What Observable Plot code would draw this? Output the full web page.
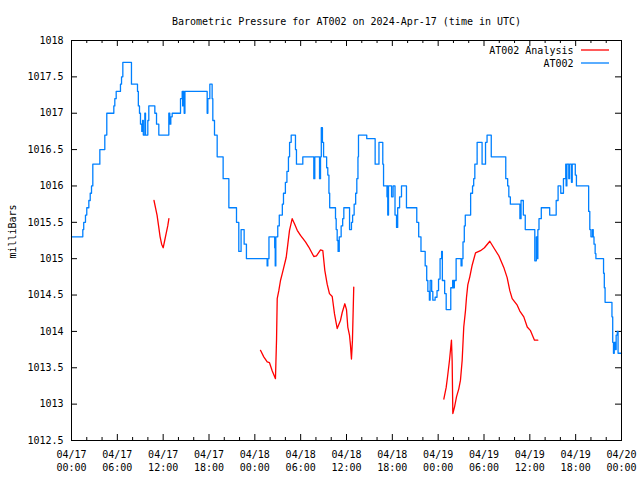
<!DOCTYPE html>
<html>
<head>
<meta charset="utf-8">
<script src="https://cdn.jsdelivr.net/npm/d3@7"></script>
<script src="https://cdn.jsdelivr.net/npm/@observablehq/plot@0.6"></script>
<style>
  html, body { margin: 0; padding: 0; background: #fff; }
  #chart { width: 640px; height: 480px; }
</style>
</head>
<body>
<div id="chart"></div>
<script>
const titleText = "Barometric Pressure for AT002 on 2024-Apr-17 (time in UTC)";
const yLabelText = "milliBars";
const seriesNames = ["AT002 Analysis", "AT002"];
const seriesColors = ["#ff0000", "#0080ff"];

const xTickHours = [0, 6, 12, 18, 24, 30, 36, 42, 48, 54, 60, 66, 72];
const xTickDates = ["04/17", "04/17", "04/17", "04/17", "04/18", "04/18", "04/18", "04/18", "04/19", "04/19", "04/19", "04/19", "04/20"];
const xTickTimes = ["00:00", "06:00", "12:00", "18:00", "00:00", "06:00", "12:00", "18:00", "00:00", "06:00", "12:00", "18:00", "00:00"];
const xMinorHours = [2, 4, 8, 10, 14, 16, 20, 22, 26, 28, 32, 34, 38, 40, 44, 46, 50, 52, 56, 58, 62, 64, 68, 70];
const yTicks = [1012.5, 1013, 1013.5, 1014, 1014.5, 1015, 1015.5, 1016, 1016.5, 1017, 1017.5, 1018];
const yTickLabels = ["1012.5", "1013", "1013.5", "1014", "1014.5", "1015", "1015.5", "1016", "1016.5", "1017", "1017.5", "1018"];

// AT002 observations: hours since 2024-04-17 00:00 UTC, pressure (mb)
const blueHours = [0, 1.48, 1.6, 1.83, 2.0, 2.27, 2.45, 2.62, 2.79, 3.71, 4.36, 4.62, 5.54, 5.67, 5.85, 6.41, 6.55, 6.72, 7.85, 8.64, 8.75, 8.9, 9.03, 9.2, 9.3, 9.4, 9.6, 9.69, 9.99, 10.12, 10.91, 11.13, 11.43, 12.74, 12.87, 13.0, 13.18, 14.27, 14.49, 14.55, 14.62, 14.75, 14.85, 17.76, 17.85, 18.11, 18.41, 18.5, 18.72, 19.07, 19.85, 20.6, 21.6, 21.9, 22.2, 22.6, 22.9, 25.61, 25.7, 25.85, 26.6, 26.67, 26.75, 27.0, 27.2, 27.6, 27.75, 28.0, 28.2, 28.4, 28.55, 28.76, 29.32, 29.45, 30.28, 31.72, 31.85, 32.47, 32.6, 32.7, 32.85, 33.0, 33.4, 33.55, 33.7, 33.8, 34.56, 34.65, 34.78, 34.9, 35.05, 35.3, 35.5, 35.65, 36.4, 36.65, 36.8, 37.0, 37.2, 37.35, 37.5, 37.57, 38.65, 39.75, 40.25, 40.75, 40.85, 41.3, 41.35, 41.4, 41.5, 41.9, 42.1, 42.35, 42.55, 42.7, 42.95, 43.2, 43.85, 45.2, 45.45, 45.75, 46.3, 46.5, 46.65, 46.85, 46.95, 47.15, 47.3, 47.6, 47.85, 48.05, 48.25, 48.45, 48.55, 48.85, 49.05, 49.65, 49.9, 50.02, 50.12, 50.35, 51.0, 51.12, 51.25, 51.42, 51.55, 52.25, 52.5, 52.65, 52.8, 53.1, 53.75, 54.2, 54.4, 54.95, 56.85, 57.1, 57.25, 57.45, 58.7, 58.85, 59.15, 59.4, 60.65, 60.85, 60.95, 61.05, 61.2, 61.5, 62.6, 63.45, 63.7, 64.05, 64.4, 64.7, 64.75, 64.85, 65.1, 65.2, 65.45, 65.55, 65.95, 66.1, 67.7, 67.85, 68.0, 68.2, 68.3, 68.4, 68.55, 68.65, 69.65, 69.75, 69.85, 70.75, 70.85, 70.95, 71.05, 71.2, 71.3, 71.45, 71.55, 72.0];
const bluePressure = [1015.3, 1015.4, 1015.5, 1015.6, 1015.7, 1015.8, 1015.9, 1016.0, 1016.3, 1016.5, 1016.7, 1017.0, 1017.1, 1017.2, 1017.3, 1017.4, 1017.5, 1017.7, 1017.4, 1017.3, 1017.1, 1017.0, 1016.85, 1016.75, 1016.9, 1016.7, 1017.0, 1016.7, 1016.9, 1017.1, 1017.0, 1016.85, 1016.7, 1017.0, 1016.85, 1016.95, 1017.0, 1017.2, 1017.3, 1017.1, 1017.3, 1017.0, 1017.3, 1017.0, 1017.2, 1017.4, 1017.2, 1016.9, 1016.7, 1016.4, 1016.1, 1015.7, 1015.5, 1015.1, 1015.4, 1015.2, 1015.0, 1014.9, 1015.0, 1015.3, 1015.15, 1014.9, 1015.3, 1015.45, 1015.6, 1015.75, 1015.9, 1016.05, 1016.2, 1016.4, 1016.6, 1016.7, 1016.5, 1016.3, 1016.4, 1016.1, 1016.4, 1016.1, 1016.4, 1016.8, 1016.6, 1016.4, 1016.25, 1016.15, 1015.9, 1015.7, 1015.55, 1015.4, 1015.25, 1015.1, 1015.3, 1015.45, 1015.55, 1015.7, 1015.4, 1015.5, 1015.6, 1015.75, 1015.9, 1016.1, 1016.4, 1016.7, 1016.65, 1016.3, 1016.6, 1016.3, 1016.0, 1015.85, 1016.0, 1015.6, 1016.0, 1015.85, 1016.0, 1015.6, 1015.43, 1015.7, 1015.85, 1016.0, 1015.7, 1015.5, 1015.3, 1015.1, 1014.9, 1014.7, 1014.55, 1014.43, 1014.7, 1014.55, 1014.43, 1014.47, 1014.56, 1014.72, 1015.0, 1015.1, 1014.7, 1014.52, 1014.3, 1014.6, 1014.7, 1014.6, 1014.7, 1015.0, 1014.9, 1015.0, 1015.23, 1015.45, 1015.6, 1015.9, 1016.0, 1016.1, 1016.3, 1016.6, 1016.3, 1016.6, 1016.7, 1016.4, 1016.1, 1016.0, 1015.85, 1015.75, 1015.55, 1015.8, 1015.6, 1015.4, 1014.97, 1015.3, 1015.0, 1015.4, 1015.55, 1015.7, 1015.6, 1015.8, 1016.0, 1015.9, 1016.1, 1016.3, 1016.0, 1016.3, 1016.1, 1016.3, 1016.05, 1016.3, 1016.15, 1016.0, 1015.65, 1015.4, 1015.3, 1015.4, 1015.3, 1015.2, 1015.07, 1015.0, 1014.8, 1014.6, 1014.4, 1014.2, 1013.85, 1013.7, 1013.85, 1013.75, 1013.95, 1014.0, 1013.7, 1013.7];

// AT002 Analysis: three separate runs
const redSegment = [1,1,1,1,1,1,1,1,1,1,1, 2,2,2,2,2,2,2,2,2,2,2,2,2,2,2,2,2,2,2,2,2,2,2,2,2,2,2,2,2,2,2,2,2,2,2,2,2,2,2,2,2, 3,3,3,3,3,3,3,3,3,3,3,3,3,3,3,3,3,3,3,3,3,3,3,3,3,3,3,3,3,3,3,3,3,3,3];
const redHours = [10.8, 11.0, 11.2, 11.4, 11.6, 11.8, 12.0, 12.2, 12.4, 12.6, 12.75,
  24.74, 25.17, 25.62, 25.92, 26.27, 26.7, 26.84, 26.93, 27.14, 27.36, 27.58, 27.79, 28.11, 28.32, 28.54, 28.89, 29.19, 29.55, 29.98, 30.63, 31.06, 31.72, 32.07, 32.6, 32.9, 33.16, 33.47, 33.77, 34.13, 34.43, 34.78, 35.21, 35.44, 35.78, 36.0, 36.17, 36.39, 36.52, 36.65, 36.78, 36.95,
  48.74, 49.05, 49.22, 49.48, 49.74, 49.83, 49.92, 50.14, 50.4, 50.7, 50.92, 51.14, 51.35, 51.58, 51.71, 51.88, 52.14, 52.45, 52.89, 53.54, 54.06, 54.76, 55.28, 55.94, 56.59, 57.03, 57.38, 57.69, 58.35, 58.69, 59.21, 59.66, 60.09, 60.61, 61.04];
const redPressure = [1015.8, 1015.7, 1015.6, 1015.45, 1015.3, 1015.2, 1015.15, 1015.25, 1015.35, 1015.45, 1015.55,
  1013.74, 1013.65, 1013.58, 1013.57, 1013.46, 1013.35, 1013.88, 1014.45, 1014.56, 1014.7, 1014.79, 1014.88, 1015.02, 1015.2, 1015.39, 1015.55, 1015.48, 1015.39, 1015.32, 1015.23, 1015.16, 1015.03, 1015.04, 1015.12, 1015.11, 1014.84, 1014.65, 1014.52, 1014.48, 1014.24, 1014.04, 1014.15, 1014.26, 1014.38, 1014.3, 1014.06, 1013.95, 1013.81, 1013.62, 1013.88, 1014.61,
  1013.07, 1013.23, 1013.37, 1013.6, 1013.88, 1013.6, 1012.87, 1012.96, 1013.1, 1013.21, 1013.33, 1013.6, 1014.06, 1014.29, 1014.47, 1014.64, 1014.75, 1014.91, 1015.08, 1015.11, 1015.15, 1015.24, 1015.15, 1015.04, 1014.88, 1014.74, 1014.56, 1014.45, 1014.36, 1014.28, 1014.2, 1014.06, 1014.01, 1013.88, 1013.88];

const blue = blueHours.map((h, i) => ({h, p: bluePressure[i]}));
const red = redHours.map((h, i) => ({h, p: redPressure[i], s: redSegment[i]}));
const xMin = 0, xMax = 72, yMin = 1012.5, yMax = 1018;
const font = "'DejaVu Sans Mono', 'Liberation Mono', monospace";

const chart = Plot.plot({
  width: 640,
  height: 480,
  marginLeft: 71,
  marginRight: 19,
  marginTop: 40,
  marginBottom: 40,
  x: {domain: [xMin, xMax], axis: null},
  y: {domain: [yMin, yMax], axis: null},
  style: {fontFamily: font, fontSize: "10px", background: "#fff", color: "#000", overflow: "visible"},
  marks: [
    // ticks (inward, mirrored)
    Plot.ruleX(xTickHours, {x: d => d, y1: yMin, y2: yMin, insetTop: -6, stroke: "#000"}),
    Plot.ruleX(xTickHours, {x: d => d, y1: yMax, y2: yMax, insetBottom: -6, stroke: "#000"}),
    Plot.ruleX(xMinorHours, {x: d => d, y1: yMin, y2: yMin, insetTop: -3, stroke: "#000"}),
    Plot.ruleX(xMinorHours, {x: d => d, y1: yMax, y2: yMax, insetBottom: -3, stroke: "#000"}),
    Plot.ruleY(yTicks, {y: d => d, x1: xMin, x2: xMin, insetRight: -6, stroke: "#000"}),
    Plot.ruleY(yTicks, {y: d => d, x1: xMax, x2: xMax, insetLeft: -6, stroke: "#000"}),
    // data
    Plot.line(blue, {x: "h", y: "p", curve: "step-after", stroke: seriesColors[1], strokeWidth: 1.3}),
    Plot.line(red, {x: "h", y: "p", z: "s", stroke: seriesColors[0], strokeWidth: 1.3}),
    Plot.frame({stroke: "#000", strokeWidth: 1}),
    // tick labels
    Plot.text(xTickHours, {x: d => d, frameAnchor: "bottom", lineAnchor: "middle", textAnchor: "middle", dy: 14.5, text: (d, i) => xTickDates[i], fill: "#000"}),
    Plot.text(xTickHours, {x: d => d, frameAnchor: "bottom", lineAnchor: "middle", textAnchor: "middle", dy: 27, text: (d, i) => xTickTimes[i], fill: "#000"}),
    Plot.text(yTicks, {y: d => d, frameAnchor: "left", lineAnchor: "middle", dx: -8, textAnchor: "end", text: (d, i) => yTickLabels[i], fill: "#000"}),
    // titles
    Plot.text([titleText], {frameAnchor: "top", lineAnchor: "middle", textAnchor: "middle", dy: -19, text: d => d, fill: "#000"}),
    Plot.text([yLabelText], {frameAnchor: "left", lineAnchor: "middle", textAnchor: "middle", dx: -59, dy: -9, rotate: -90, text: d => d, fill: "#000"}),
    // legend labels
    Plot.text([seriesNames[0]], {frameAnchor: "top-right", lineAnchor: "middle", dx: -48, dy: 10, textAnchor: "end", text: d => d, fill: "#000"}),
    Plot.text([seriesNames[1]], {frameAnchor: "top-right", lineAnchor: "middle", dx: -48, dy: 23, textAnchor: "end", text: d => d, fill: "#000"})
  ]
});

// legend line samples
const svg = d3.select(chart);
const right = 640 - 19;
[0, 1].forEach(i => {
  svg.append("line")
    .attr("x1", right - 40).attr("x2", right - 12)
    .attr("y1", 40 + 10 + i * 13).attr("y2", 40 + 10 + i * 13)
    .attr("stroke", seriesColors[i]).attr("stroke-width", 1.3);
});

document.getElementById("chart").appendChild(chart);
</script>
</body>
</html>
